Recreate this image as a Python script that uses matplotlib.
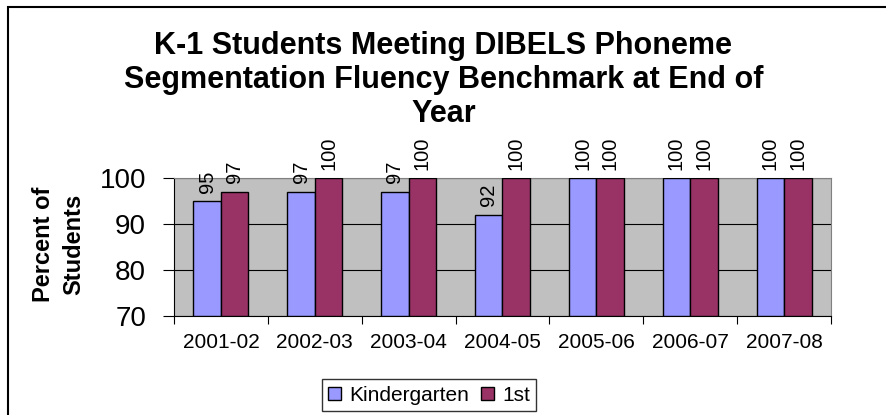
import numpy as np
import matplotlib
matplotlib.use("Agg")
import matplotlib.pyplot as plt
from matplotlib.patches import Rectangle

plt.rcParams["font.family"] = ["Liberation Sans", "DejaVu Sans"]

years = ["2001-02", "2002-03", "2003-04", "2004-05", "2005-06", "2006-07", "2007-08"]
kinder = [95, 97, 97, 92, 100, 100, 100]
first = [97, 100, 100, 100, 100, 100, 100]
series = ["Kindergarten", "1st"]
colors = ["#9999FF", "#993366"]

fig = plt.figure(figsize=(8.87, 4.15), dpi=100)
# outer chart frame (only left/top edges visible in the crop)
fig.patches.append(Rectangle((8 / 887, -0.05), 1.2, 1 - 7 / 415 + 0.05,
                             transform=fig.transFigure, fill=False,
                             ec="black", lw=1.5))

ax = fig.add_axes([174 / 887, 1 - 316 / 415, 657 / 887, 138 / 415])
ax.set_facecolor("#C0C0C0")

x = np.arange(len(years))
w = 0.293
for i, (vals, lab, col) in enumerate(zip([kinder, first], series, colors)):
    bars = ax.bar(x + (i - 0.5) * w, [v - 70 for v in vals], w, bottom=70,
                  color=col, edgecolor="black", lw=1, label=lab, zorder=3)
    for b, v in zip(bars, vals):
        ax.annotate(str(v), (b.get_x() + b.get_width() / 2, v),
                    xytext=(0, 6), textcoords="offset points",
                    rotation=90, ha="center", va="bottom", fontsize=14.5,
                    annotation_clip=False)

ax.set_xlim(-0.5, len(years) - 0.5)
ax.set_ylim(70, 100)
ax.set_yticks([70, 80, 90, 100])
ax.yaxis.grid(True, color="black", lw=0.8, zorder=1)
ax.set_axisbelow(True)
ax.tick_params(axis="y", labelsize=20, length=8, width=0.8, direction="out", pad=12)

ax.set_xticks(x)
ax.set_xticklabels(years, fontsize=15)
ax.tick_params(axis="x", length=0, pad=12)
ax.set_xticks(np.arange(len(years) + 1) - 0.5, minor=True)
ax.tick_params(axis="x", which="minor", length=6, width=0.8)

for s in ["top", "right"]:
    ax.spines[s].set_color("#808080")
ax.spines["left"].set_color("black")
ax.spines["bottom"].set_color("black")

fig.text(0.5, 1 - 80 / 415,
         "K-1 Students Meeting DIBELS Phoneme\nSegmentation Fluency Benchmark at End of\nYear",
         ha="center", va="center", fontsize=22, fontweight="bold", linespacing=1.18)
fig.text(59 / 887, 1 - 244 / 415, "Percent of\nStudents", rotation=90,
         ha="center", va="center", fontsize=17, fontweight="bold",
         linespacing=1.4)

leg = fig.legend(loc="center", bbox_to_anchor=(429 / 887, 1 - 395 / 415),
                 ncol=2, fontsize=15, frameon=True, fancybox=False,
                 edgecolor="black", handlelength=0.6, handleheight=0.6,
                 handletextpad=0.4, columnspacing=0.6, borderpad=0.3)
leg.get_frame().set_linewidth(1)

fig.savefig("out.png", dpi=100)
